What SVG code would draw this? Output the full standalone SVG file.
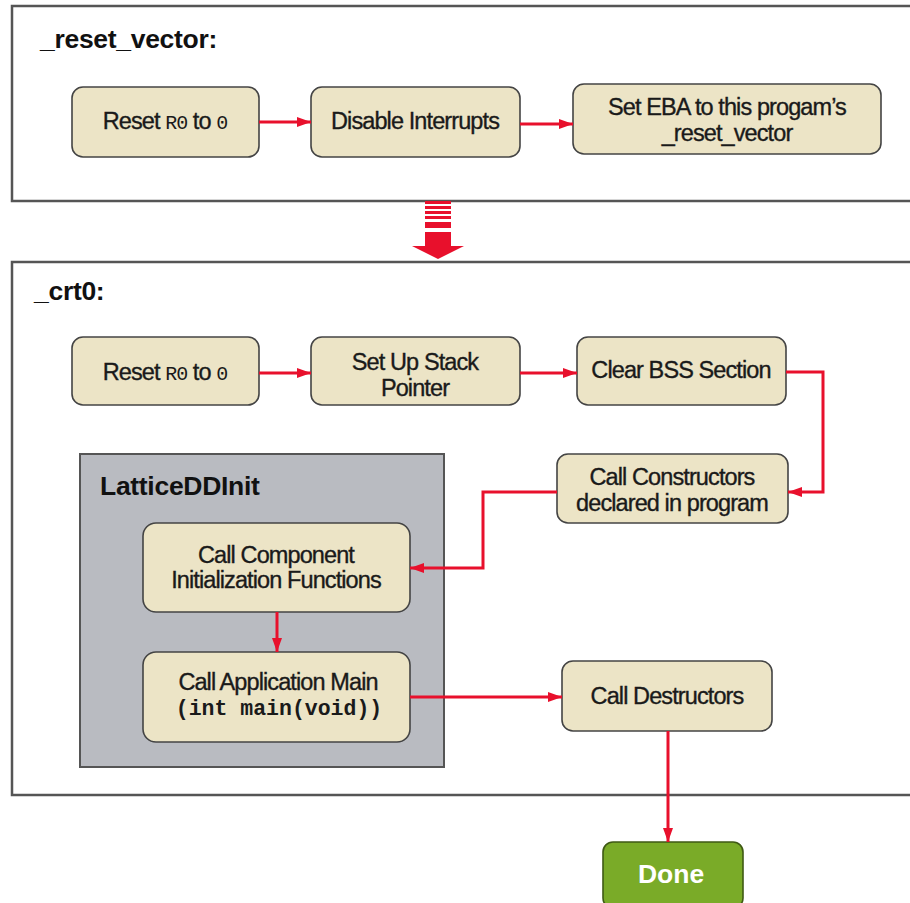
<svg xmlns="http://www.w3.org/2000/svg" width="910" height="903" viewBox="0 0 910 903">
<style>
.frame{fill:#ffffff;stroke:#555;stroke-width:2.5}
.node{fill:#ece4c6;stroke:#444;stroke-width:1.6}
.gray{fill:#b9bbc1;stroke:#555;stroke-width:2}
.done{fill:#7aab28;stroke:#3f5a14;stroke-width:1.6}
.t{font-family:"Liberation Sans",Arial,sans-serif;font-size:23.5px;fill:#1a1a1a;stroke:#1a1a1a;stroke-width:0.35;text-anchor:middle;letter-spacing:-0.9px}
.mono{font-family:"Liberation Mono","Courier New",monospace;font-size:20px;letter-spacing:-1px;stroke-width:0}
.monob{font-family:"Liberation Mono","Courier New",monospace;font-size:21.5px;font-weight:bold;letter-spacing:0;stroke-width:0}
.title{font-family:"Liberation Sans",Arial,sans-serif;font-size:26.5px;font-weight:bold;fill:#111;letter-spacing:-0.3px}
.donet{font-family:"Liberation Sans",Arial,sans-serif;font-size:26.5px;font-weight:bold;fill:#fff;text-anchor:middle}
.c{fill:none;stroke:#e8102c;stroke-width:3}
</style>
<defs>
<marker id="ah" markerUnits="userSpaceOnUse" markerWidth="16" markerHeight="12" refX="14" refY="5" orient="auto">
<path d="M0,0 L14,5 L0,10 z" fill="#e8102c"/>
</marker>
</defs>
<rect width="910" height="903" fill="#ffffff"/>

<g id="reset_vector">
<rect class="frame" x="12" y="6" width="910" height="195"/>
<text class="title" x="40" y="48">_reset_vector:</text>
</g>
<g id="crt0">
<rect class="frame" x="12" y="262" width="910" height="533"/>
<text class="title" x="34" y="300">_crt0:</text>
</g>
<g id="latticeddinit">
<rect class="gray" x="80" y="454" width="364" height="313"/>
<text class="title" x="100" y="495">LatticeDDInit</text>
</g>

<g id="rv_reset">
<rect class="node" x="72" y="87" width="187" height="70" rx="11"/>
<text class="t" x="165" y="129">Reset <tspan class="mono">R0</tspan> to <tspan class="mono">0</tspan></text>
</g>
<g id="rv_disable">
<rect class="node" x="311" y="87" width="209" height="70" rx="11"/>
<text class="t" x="415" y="129">Disable Interrupts</text>
</g>
<g id="rv_seteba">
<rect class="node" x="573" y="84" width="308" height="70" rx="11"/>
<text class="t" x="727" y="115">Set EBA to this progam’s</text>
<text class="t" x="727" y="141">_reset_vector</text>
</g>

<g id="crt_reset">
<rect class="node" x="72" y="337" width="187" height="68" rx="11"/>
<text class="t" x="165" y="380">Reset <tspan class="mono">R0</tspan> to <tspan class="mono">0</tspan></text>
</g>
<g id="crt_stack">
<rect class="node" x="311" y="337" width="209" height="68" rx="11"/>
<text class="t" x="415" y="370">Set Up Stack</text>
<text class="t" x="415" y="396">Pointer</text>
</g>
<g id="crt_bss">
<rect class="node" x="577" y="337" width="209" height="68" rx="11"/>
<text class="t" x="681" y="378">Clear BSS Section</text>
</g>
<g id="crt_ctors">
<rect class="node" x="557" y="454" width="231" height="69" rx="11"/>
<text class="t" x="672" y="485">Call Constructors</text>
<text class="t" x="672" y="511">declared in program</text>
</g>
<g id="crt_component">
<rect class="node" x="143" y="523" width="267" height="89" rx="13"/>
<text class="t" x="276" y="563">Call Component</text>
<text class="t" x="276" y="588">Initialization Functions</text>
</g>
<g id="crt_main">
<rect class="node" x="143" y="652" width="267" height="90" rx="13"/>
<text class="t" x="278" y="690">Call Application Main</text>
<text class="t monob" x="279" y="715">(int main(void))</text>
</g>
<g id="crt_dtors">
<rect class="node" x="562" y="661" width="210" height="70" rx="11"/>
<text class="t" x="667" y="704">Call Destructors</text>
</g>
<g id="done">
<rect class="done" x="603" y="842" width="140" height="66" rx="10"/>
<text class="donet" x="671" y="883">Done</text>
</g>

<g id="connectors">
<path class="c" d="M259,122 H311" marker-end="url(#ah)"/>
<path class="c" d="M520,124 H573" marker-end="url(#ah)"/>
<path class="c" d="M259,373 H311" marker-end="url(#ah)"/>
<path class="c" d="M520,373 H577" marker-end="url(#ah)"/>
<path class="c" d="M786,372 H823 V492 H788" marker-end="url(#ah)"/>
<path class="c" d="M557,492 H483 V568 H410" marker-end="url(#ah)"/>
<path class="c" d="M277,612 V652" marker-end="url(#ah)"/>
<path class="c" d="M410,697 H562" marker-end="url(#ah)"/>
<path class="c" d="M668,731 V842" marker-end="url(#ah)"/>
<g id="big_arrow" fill="#e8102c">
<rect x="425" y="201" width="26" height="3"/>
<rect x="425" y="206" width="26" height="3"/>
<rect x="425" y="211" width="26" height="3"/>
<rect x="425" y="216" width="26" height="3"/>
<rect x="425" y="222" width="26" height="6"/>
<path d="M425,232 H451 V246 H464 L438,259 L412,246 H425 Z"/>
</g>
</g>
</svg>
